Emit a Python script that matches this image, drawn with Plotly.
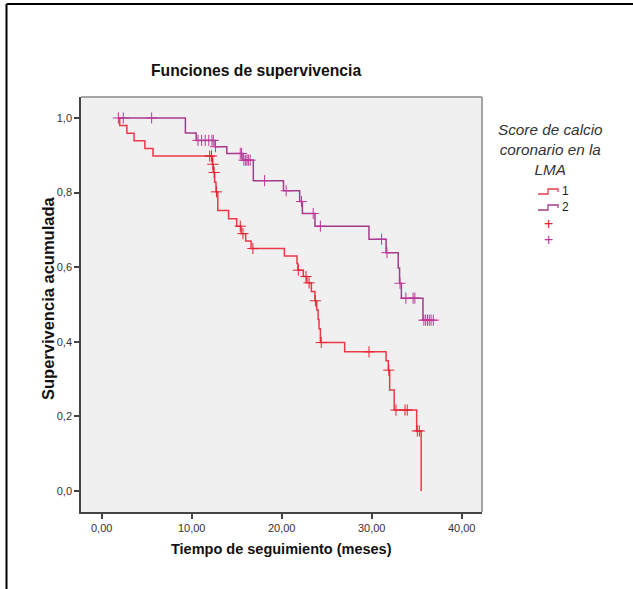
import plotly.graph_objects as go

# Kaplan-Meier step points (time in months, cumulative survival) per group
grp1_time = [1.9, 2.0, 2.8, 3.6, 4.8, 5.7, 12.3, 12.4, 12.55, 12.7, 12.9, 14.1, 15.0,
             15.5, 16.0, 16.6, 20.3, 21.7, 21.8, 22.4, 22.8, 23.3, 23.7, 23.9, 24.05,
             24.15, 24.3, 27.0, 31.6, 31.85, 32.0, 32.5, 35.0, 35.5]
grp1_surv = [1.0, 0.98, 0.959, 0.939, 0.918, 0.898, 0.876, 0.854, 0.828, 0.802, 0.752,
             0.73, 0.71, 0.69, 0.67, 0.65, 0.63, 0.61, 0.592, 0.575, 0.558, 0.535, 0.51,
             0.485, 0.46, 0.435, 0.398, 0.373, 0.349, 0.324, 0.271, 0.217, 0.161, 0.0]
grp1_censored = [12.0, 12.2, 12.35, 12.5, 12.75, 15.4, 15.7, 16.8, 21.85, 22.7, 23.05,
                 23.75, 24.4, 29.7, 31.9, 32.7, 33.7, 33.95, 35.07, 35.3]

grp2_time = [1.85, 9.3, 10.5, 12.6, 13.9, 15.7, 16.85, 20.2, 22.0, 22.3, 23.7, 29.7,
             31.6, 32.95, 33.1, 33.3, 35.7]
grp2_surv = [1.0, 0.96, 0.94, 0.923, 0.905, 0.887, 0.832, 0.805, 0.776, 0.744, 0.710,
             0.675, 0.639, 0.598, 0.557, 0.517, 0.458]
grp2_censored = [1.85, 2.4, 5.55, 10.7, 11.1, 11.5, 11.9, 12.25, 12.4, 12.65, 15.4, 15.55,
                 15.8, 16.0, 16.15, 16.3, 16.5, 18.1, 20.5, 22.2, 23.5, 24.3, 31.1, 31.7,
                 33.15, 33.8, 34.6, 34.8, 35.8, 36.0, 36.2, 36.4, 36.6, 36.85]

x_ticks = [0, 10, 20, 30, 40]
y_ticks = [0.0, 0.2, 0.4, 0.6, 0.8, 1.0]

red_line, red_mark = "#ea3a48", "#e62234"
pur_line, pur_mark = "#a23c88", "#c2369c"


def surv_at(times, survs, t):
    s = survs[0]
    for ti, si in zip(times, survs):
        if ti <= t:
            s = si
    return s


def extend(times, survs, censored):
    t, s = list(times), list(survs)
    last = max(censored)
    if last > t[-1] and s[-1] > 0:
        t.append(last)
        s.append(s[-1])
    return t, s


fig = go.Figure()
for times, survs, cens, lc, mc in [
    (grp1_time, grp1_surv, grp1_censored, red_line, red_mark),
    (grp2_time, grp2_surv, grp2_censored, pur_line, pur_mark),
]:
    t, s = extend(times, survs, cens)
    fig.add_trace(go.Scatter(x=t, y=s, mode="lines", line=dict(color=lc, width=1.5, shape="hv"),
                             showlegend=False, hoverinfo="skip"))
    fig.add_trace(go.Scatter(x=cens, y=[surv_at(times, survs, c) for c in cens], mode="markers",
                             marker=dict(symbol="cross-thin", size=8, line=dict(color=mc, width=1)),
                             showlegend=False, hoverinfo="skip"))

W, H = 633, 589
L, R, T, B = 81, 482, 97, 512


def px(xp):
    return (xp - L) / (R - L)


def py(yp):
    return (B - yp) / (B - T)


font = "Liberation Sans, Arial, sans-serif"
shapes = [
    # outer frame
    dict(type="line", xref="paper", yref="paper", x0=px(6.5), x1=px(W + 5), y0=py(4), y1=py(4),
         line=dict(color="black", width=2)),
    dict(type="line", xref="paper", yref="paper", x0=px(6.5), x1=px(6.5), y0=py(4), y1=py(H + 5),
         line=dict(color="black", width=2)),
    # top and right plot borders
    dict(type="line", xref="paper", yref="paper", x0=0, x1=1, y0=1, y1=1,
         line=dict(color="#888888", width=1.5)),
    dict(type="line", xref="paper", yref="paper", x0=1, x1=1, y0=0, y1=1,
         line=dict(color="#888888", width=1.5)),
]
# legend step symbols
for yy, col in [(194, red_line), (210, pur_line)]:
    shapes.append(dict(type="path", xref="paper", yref="paper",
                       path=f"M {px(538)},{py(yy)} L {px(548)},{py(yy)} L {px(548)},{py(yy-5)} "
                            f"L {px(558)},{py(yy-5)} L {px(558)},{py(yy-2)}",
                       line=dict(color=col, width=1.3)))


def note(text, x, y, size, color, **kw):
    d = dict(text=text, x=px(x), y=py(y), xref="paper", yref="paper", showarrow=False,
             xanchor=kw.pop("xanchor", "center"), yanchor="middle",
             font=dict(family=font, size=size, color=color))
    d.update(kw)
    return d


annotations = [
    note("<b>Funciones de supervivencia</b>", 256, 70, 15.7, "#111"),
    note("<b>Tiempo de seguimiento (meses)</b>", 281, 549, 14.5, "#111"),
    note("<b>Supervivencia acumulada</b>", 48, 299, 16.5, "#111", textangle=-90),
    note("<i>Score de calcio<br>coronario en la<br>LMA</i>", 550, 149, 15.3, "#333", align="center"),
    note("1", 560, 191, 12, "#222", xanchor="left"),
    note("2", 560, 207, 12, "#222", xanchor="left"),
    note("+", 548.5, 223, 16, red_mark),
    note("+", 548.5, 239, 16, pur_mark),
]

fig.update_layout(
    width=W, height=H,
    margin=dict(l=L, r=W - R, t=T, b=H - B, pad=0),
    paper_bgcolor="white", plot_bgcolor="#f0f0f0",
    separators=",.",
    shapes=shapes, annotations=annotations,
    showlegend=False,
    xaxis=dict(range=[-2.3, 42.26], tickvals=x_ticks, tickformat=".2f", showgrid=False,
               zeroline=False, showline=True, linecolor="#444", linewidth=1.5,
               ticks="outside", ticklen=5, tickcolor="#444", tickwidth=1.5,
               tickfont=dict(family=font, size=11, color="#333")),
    yaxis=dict(range=[-0.0563, 1.0563], tickvals=y_ticks, tickformat=".1f", showgrid=False,
               zeroline=False, showline=True, linecolor="#444", linewidth=1.5,
               ticks="outside", ticklen=5, tickcolor="#444", tickwidth=1.5,
               tickfont=dict(family=font, size=11, color="#333")),
)

fig.write_html("out.html")
